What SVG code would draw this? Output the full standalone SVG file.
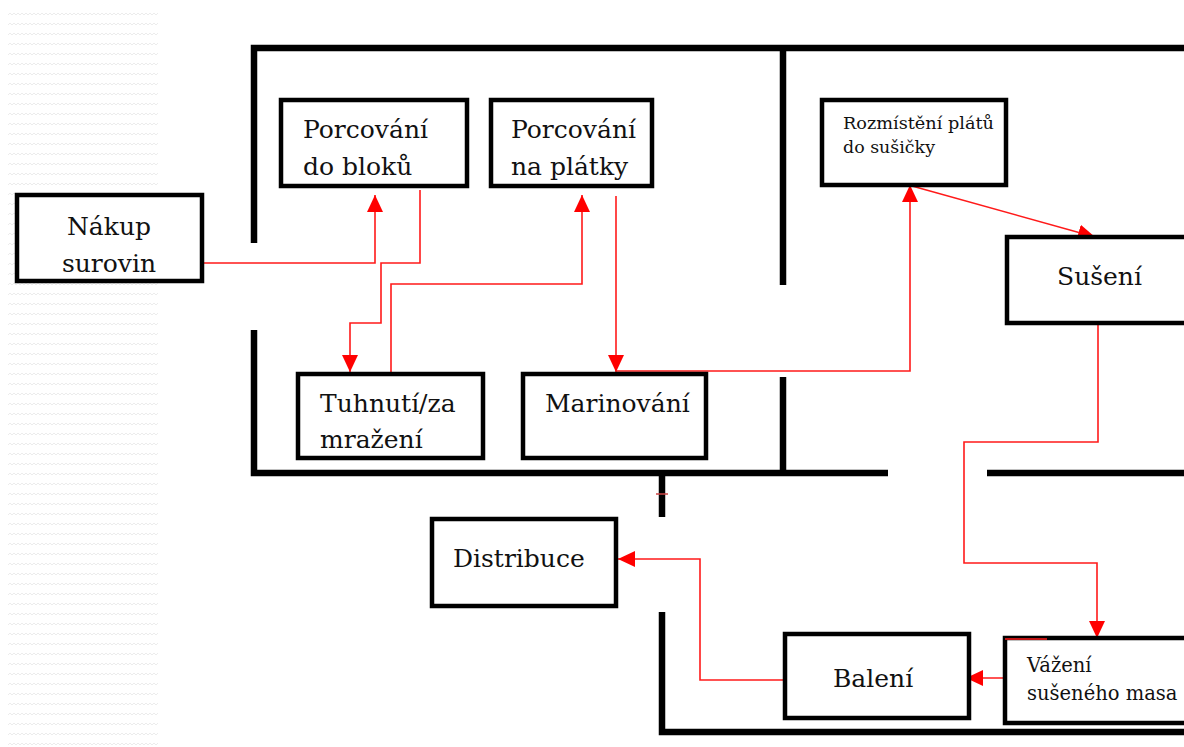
<svg xmlns="http://www.w3.org/2000/svg" width="1184" height="747" viewBox="0 0 1184 747">
<style>
.box{fill:#fff;stroke:#000;stroke-width:4.5}
.wall{stroke:#000;stroke-width:6.5;fill:none;stroke-linecap:butt}
.t{font-family:"DejaVu Serif","Liberation Serif",serif;font-size:25px;fill:#111}
.s{font-family:"DejaVu Serif","Liberation Serif",serif;font-size:17px;fill:#111}
.m{font-family:"DejaVu Serif","Liberation Serif",serif;font-size:19.5px;fill:#111}
.c{fill:none;stroke:#ff1a1a;stroke-width:1.6}
</style>
<defs>
<marker id="ah" viewBox="0 0 17 16" refX="17" refY="8" markerWidth="17" markerHeight="16" markerUnits="userSpaceOnUse" orient="auto">
<path d="M0,0 L17,8 L0,16 z" fill="#ff0000"/>
</marker>
<pattern id="zz" width="8" height="10" patternUnits="userSpaceOnUse">
<polyline points="0,5 2,3 4,5 6,3 8,5" fill="none" stroke="#ececec" stroke-width="1"/>
</pattern>
</defs>
<rect width="1184" height="747" fill="#fff"/>
<rect x="8" y="10" width="150" height="737" fill="url(#zz)"/>
<g id="walls">
<path class="wall" d="M254,243 V48 H1184"/>
<path class="wall" d="M254,330 V473 H888"/>
<path class="wall" d="M783,48 V285"/>
<path class="wall" d="M783,377 V473"/>
<path class="wall" d="M987,473 H1184"/>
<path class="wall" d="M662,473 V517"/>
<path class="wall" d="M662,612 V732 H1184"/>
<line x1="656" y1="494" x2="668" y2="494" stroke="#c44" stroke-width="1.5"/>
</g>
<g id="connectors">
<path class="c" d="M202,263 H375 V195" marker-end="url(#ah)"/>
<path class="c" d="M420,190 V263 H381 V323 H350 V372" marker-end="url(#ah)"/>
<path class="c" d="M391,373 V284 H582 V195" marker-end="url(#ah)"/>
<path class="c" d="M616,196 V372" marker-end="url(#ah)"/>
<path class="c" d="M616,371 H910 V185" marker-end="url(#ah)"/>
<path class="c" d="M912,186 L1095,237" marker-end="url(#ah)"/>
<path class="c" d="M1098,323 V442 H964 V563 H1097 V638" marker-end="url(#ah)"/>
<path class="c" d="M1005,678 H966" marker-end="url(#ah)"/>
<path class="c" d="M785,680 H700 V559 H618" marker-end="url(#ah)"/>
</g>
<g id="nakup">
<rect class="box" x="17" y="195" width="185" height="86"/>
<text class="t" x="109" y="235" text-anchor="middle">Nákup</text>
<text class="t" x="109" y="272" text-anchor="middle">surovin</text>
</g>
<g id="porc-bloky">
<rect class="box" x="281" y="100" width="186" height="86"/>
<text class="t" x="303" y="138">Porcování</text>
<text class="t" x="303" y="175">do bloků</text>
</g>
<g id="porc-platky">
<rect class="box" x="491" y="100" width="161" height="86"/>
<text class="t" x="511" y="138">Porcování</text>
<text class="t" x="511" y="175">na plátky</text>
</g>
<g id="tuhnuti">
<rect class="box" x="298" y="374" width="185" height="84"/>
<text class="t" x="320" y="412">Tuhnutí/za</text>
<text class="t" x="320" y="448">mražení</text>
</g>
<g id="marinovani">
<rect class="box" x="523" y="374" width="183" height="84"/>
<text class="t" x="545" y="412">Marinování</text>
</g>
<g id="rozmisteni">
<rect class="box" x="822" y="100" width="184" height="85"/>
<text class="s" x="843" y="129" textLength="151" lengthAdjust="spacingAndGlyphs">Rozmístění plátů</text>
<text class="s" x="843" y="153" textLength="92" lengthAdjust="spacingAndGlyphs">do sušičky</text>
</g>
<g id="suseni">
<rect class="box" x="1007" y="237" width="190" height="86"/>
<text class="t" x="1057" y="285">Sušení</text>
</g>
<g id="distribuce">
<rect class="box" x="432" y="519" width="184" height="87"/>
<text class="t" x="453" y="567">Distribuce</text>
</g>
<g id="baleni">
<rect class="box" x="785" y="634" width="184" height="84"/>
<text class="t" x="833" y="687">Balení</text>
</g>
<g id="vazeni">
<rect class="box" x="1005" y="638" width="190" height="85"/>
<line x1="1005" y1="639" x2="1047" y2="639" stroke="#ff1a1a" stroke-width="1.6"/>
<text class="m" x="1027" y="672">Vážení</text>
<text class="m" x="1027" y="700">sušeného masa</text>
</g>
</svg>
